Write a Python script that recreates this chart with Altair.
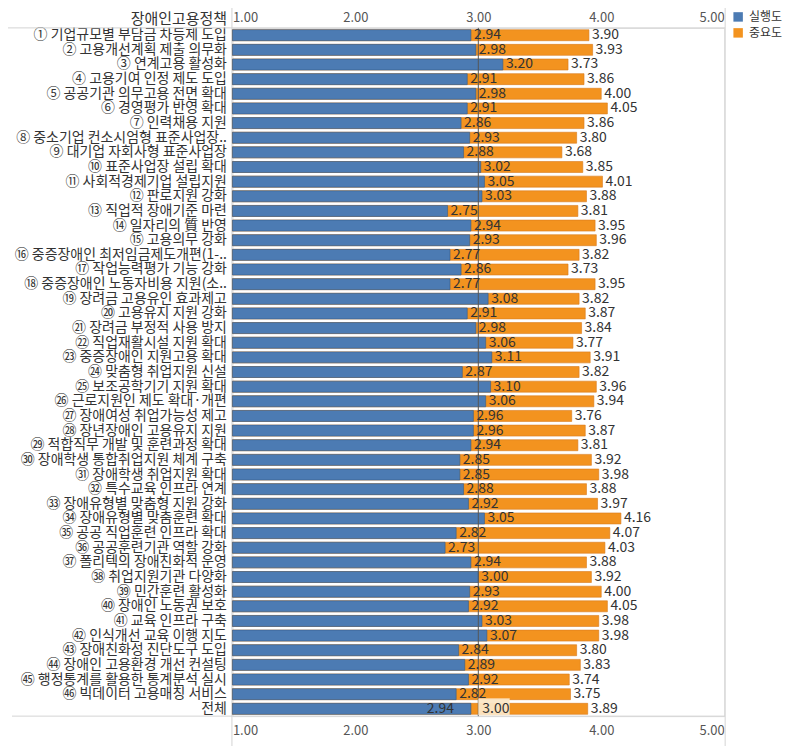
import altair as alt
import pandas as pd

policies = [
    "① 기업규모별 부담금 차등제 도입",
    "② 고용개선계획 제출 의무화",
    "③ 연계고용 활성화",
    "④ 고용기여 인정 제도 도입",
    "⑤ 공공기관 의무고용 전면 확대",
    "⑥ 경영평가 반영 확대",
    "⑦ 인력채용 지원",
    "⑧ 중소기업 컨소시엄형 표준사업장..",
    "⑨ 대기업 자회사형 표준사업장",
    "⑩ 표준사업장 설립 확대",
    "⑪ 사회적경제기업 설립지원",
    "⑫ 판로지원 강화",
    "⑬ 직업적 장애기준 마련",
    "⑭ 일자리의 質 반영",
    "⑮ 고용의무 강화",
    "⑯ 중증장애인 최저임금제도개편(1-..",
    "⑰ 작업능력평가 기능 강화",
    "⑱ 중증장애인 노동자비용 지원(소..",
    "⑲ 장려금 고용유인 효과제고",
    "⑳ 고용유지 지원 강화",
    "㉑ 장려금 부정적 사용 방지",
    "㉒ 직업재활시설 지원 확대",
    "㉓ 중증장애인 지원고용 확대",
    "㉔ 맞춤형 취업지원 신설",
    "㉕ 보조공학기기 지원 확대",
    "㉖ 근로지원인 제도 확대·개편",
    "㉗ 장애여성 취업가능성 제고",
    "㉘ 장년장애인 고용유지 지원",
    "㉙ 적합직무 개발 및 훈련과정 확대",
    "㉚ 장애학생 통합취업지원 체계 구축",
    "㉛ 장애학생 취업지원 확대",
    "㉜ 특수교육 인프라 연계",
    "㉝ 장애유형별 맞춤형 지원 강화",
    "㉞ 장애유형별 맞춤훈련 확대",
    "㉟ 공공 직업훈련 인프라 확대",
    "㊱ 공공훈련기관 역할 강화",
    "㊲ 폴리텍의 장애친화적 운영",
    "㊳ 취업지원기관 다양화",
    "㊴ 민간훈련 활성화",
    "㊵ 장애인 노동권 보호",
    "㊶ 교육 인프라 구축",
    "㊷ 인식개선 교육 이행 지도",
    "㊸ 장애친화성 진단도구 도입",
    "㊹ 장애인 고용환경 개선 컨설팅",
    "㊺ 행정통계를 활용한 통계분석 실시",
    "㊻ 빅데이터 고용매칭 서비스",
    "전체",
]

execution = [
    2.94, 2.98, 3.20, 2.91, 2.98, 2.91, 2.86, 2.93, 2.88, 3.02,
    3.05, 3.03, 2.75, 2.94, 2.93, 2.77, 2.86, 2.77, 3.08, 2.91,
    2.98, 3.06, 3.11, 2.87, 3.10, 3.06, 2.96, 2.96, 2.94, 2.85,
    2.85, 2.88, 2.92, 3.05, 2.82, 2.73, 2.94, 3.00, 2.93, 2.92,
    3.03, 3.07, 2.84, 2.89, 2.92, 2.82, 2.94,
]

importance = [
    3.90, 3.93, 3.73, 3.86, 4.00, 4.05, 3.86, 3.80, 3.68, 3.85,
    4.01, 3.88, 3.81, 3.95, 3.96, 3.82, 3.73, 3.95, 3.82, 3.87,
    3.84, 3.77, 3.91, 3.82, 3.96, 3.94, 3.76, 3.87, 3.81, 3.92,
    3.98, 3.88, 3.97, 4.16, 4.07, 4.03, 3.88, 3.92, 4.00, 4.05,
    3.98, 3.98, 3.80, 3.83, 3.74, 3.75, 3.89,
]

series = ["실행도", "중요도"]
axis_ticks = [1, 2, 3, 4, 5]
reference_value = 3.0
total_label = "전체"

BLUE = "#4C7BB3"
ORANGE = "#F3931F"
FONT = "Noto Sans CJK KR"
W, H = 493, 690

df = pd.DataFrame({"정책": policies, "실행도": execution, "중요도": importance})
long = df.melt(id_vars="정책", var_name="구분", value_name="점수")

xscale = alt.Scale(domain=[1, 5], nice=False, zero=False)
yscale = alt.Scale(domain=policies, paddingInner=0.25, paddingOuter=0.125)

y_axis = alt.Axis(
    title="장애인고용정책",
    titleAngle=0,
    titleAlign="right",
    titleBaseline="alphabetic",
    titleX=-6,
    titleY=-4,
    titleFontSize=15,
    titleFontWeight="normal",
    titleColor="#333333",
    titleFont=FONT,
    labelFont=FONT,
    labelFontSize=14,
    labelColor="#333333",
    labelPadding=6,
    labelLimit=400,
    ticks=False,
    domain=False,
    grid=False,
)
y_enc = alt.Y("정책:N", scale=yscale, axis=y_axis)

color_enc = alt.Color(
    "구분:N",
    scale=alt.Scale(domain=series, range=[BLUE, ORANGE]),
    legend=alt.Legend(
        title=None,
        orient="none",
        legendX=501,
        legendY=-17,
        symbolType="square",
        symbolSize=90,
        symbolStrokeWidth=0,
        labelFont=FONT,
        labelFontSize=12,
        labelColor="#333333",
        labelOffset=5,
        rowPadding=4,
    ),
)

bottom_axis = alt.Axis(
    orient="bottom", values=axis_ticks, format=".2f", labelFlush=True,
    ticks=False, tickSize=0, domain=False, grid=False, title=None,
    labelFont=FONT, labelFontSize=13, labelColor="#555555", labelPadding=8,
)
top_axis = alt.Axis(
    orient="top", values=axis_ticks, format=".2f", labelFlush=True,
    ticks=False, tickSize=0, domain=False, grid=False, title=None,
    labelFont=FONT, labelFontSize=13, labelColor="#555555", labelPadding=3,
)

base = alt.Chart(long)
is_imp = alt.FieldEqualPredicate(field="구분", equal="중요도")
is_exe = alt.FieldEqualPredicate(field="구분", equal="실행도")

orange_bars = base.transform_filter(is_imp).mark_bar(
    stroke="#d97a1c", strokeWidth=0.6
).encode(
    x=alt.X("점수:Q", scale=xscale, axis=bottom_axis),
    x2=alt.datum(1),
    y=y_enc,
    color=color_enc,
)

blue_bars = base.transform_filter(is_exe).mark_bar(
    stroke="#355d88", strokeWidth=0.6
).encode(
    x=alt.X("점수:Q", scale=xscale, axis=None),
    x2=alt.datum(1),
    y=y_enc,
    color=color_enc,
)

ref_df = pd.DataFrame({"ref": [reference_value]})
ref_rule = alt.Chart(ref_df).mark_rule(color="#555555", strokeWidth=1).encode(
    x=alt.X("ref:Q", scale=xscale, axis=top_axis),
)

text_style = dict(baseline="middle", fontSize=14, font=FONT, color="#333333")

orange_labels = base.transform_filter(is_imp).mark_text(
    align="left", dx=3, **text_style
).encode(
    x=alt.X("점수:Q", scale=xscale, axis=None),
    y=y_enc,
    text=alt.Text("점수:Q", format=".2f"),
)

blue_labels = base.transform_filter(is_exe).transform_filter(
    alt.FieldOneOfPredicate(field="정책", oneOf=policies[:-1])
).mark_text(align="left", dx=3, **text_style).encode(
    x=alt.X("점수:Q", scale=xscale, axis=None),
    y=y_enc,
    text=alt.Text("점수:Q", format=".2f"),
)

total_blue_label = base.transform_filter(is_exe).transform_filter(
    alt.FieldEqualPredicate(field="정책", equal=total_label)
).mark_text(align="right", dx=-17, **text_style).encode(
    x=alt.X("점수:Q", scale=xscale, axis=None),
    y=y_enc,
    text=alt.Text("점수:Q", format=".2f"),
)

ref_label_df = pd.DataFrame({"정책": [total_label], "ref": [reference_value]})
ref_box = alt.Chart(ref_label_df).mark_bar(
    size=17, yOffset=-2, color="#FBE6C6", opacity=0.95
).encode(
    x=alt.X("ref:Q", scale=xscale, axis=None),
    x2=alt.datum(3.255),
    y=y_enc,
)
ref_text = alt.Chart(ref_label_df).mark_text(align="left", dx=4, **text_style).encode(
    x=alt.X("ref:Q", scale=xscale, axis=None),
    y=y_enc,
    text=alt.Text("ref:Q", format=".2f"),
)

line_df = pd.DataFrame({"a": [0]})
frame_color = "#d4d4d4"
top_line = alt.Chart(line_df).mark_rule(color=frame_color, strokeWidth=1).encode(
    x=alt.value(-225), x2=alt.value(W + 1), y=alt.value(0)
)
bottom_line = alt.Chart(line_df).mark_rule(color=frame_color, strokeWidth=1).encode(
    x=alt.value(-221), x2=alt.value(W + 1), y=alt.value(H)
)
left_line = alt.Chart(line_df).mark_rule(color=frame_color, strokeWidth=1).encode(
    x=alt.value(-0.5), y=alt.value(-27), y2=alt.value(H + 40)
)
right_line = alt.Chart(line_df).mark_rule(color=frame_color, strokeWidth=1).encode(
    x=alt.value(W + 1), y=alt.value(-27), y2=alt.value(H + 40)
)

chart = alt.layer(
    top_line, bottom_line, left_line, right_line,
    orange_bars, blue_bars, ref_rule, ref_box,
    orange_labels, blue_labels, total_blue_label, ref_text,
).resolve_scale(x="shared").resolve_axis(x="independent").properties(
    width=W,
    height=H,
    autosize=alt.AutoSizeParams(type="none"),
    padding={"left": 225, "top": 19, "right": 68, "bottom": 29},
).configure_view(stroke=None).configure(background="white")

chart.save("out.html", embed_options={"renderer": "svg", "actions": False})
